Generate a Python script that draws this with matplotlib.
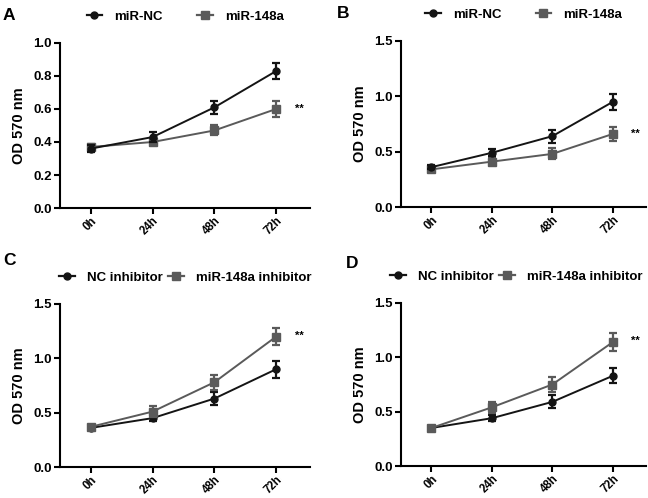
import matplotlib.pyplot as plt
from matplotlib.lines import Line2D

plt.rcParams['font.family'] = ['Liberation Sans', 'DejaVu Sans']
plt.rcParams['font.weight'] = 'bold'

times = ['0h', '24h', '48h', '72h']

# panel A
a_nc = [0.36, 0.43, 0.61, 0.83]
a_nc_err = [0.02, 0.03, 0.04, 0.05]
a_mir = [0.37, 0.40, 0.47, 0.60]
a_mir_err = [0.02, 0.02, 0.03, 0.05]

# panel B
b_nc = [0.36, 0.49, 0.64, 0.95]
b_nc_err = [0.02, 0.03, 0.06, 0.07]
b_mir = [0.34, 0.41, 0.48, 0.66]
b_mir_err = [0.02, 0.03, 0.05, 0.06]

# panel C
c_nc = [0.36, 0.45, 0.63, 0.90]
c_nc_err = [0.02, 0.03, 0.06, 0.08]
c_inh = [0.37, 0.51, 0.78, 1.20]
c_inh_err = [0.02, 0.05, 0.07, 0.08]

# panel D
d_nc = [0.35, 0.44, 0.59, 0.83]
d_nc_err = [0.02, 0.03, 0.06, 0.07]
d_inh = [0.35, 0.54, 0.75, 1.14]
d_inh_err = [0.02, 0.05, 0.07, 0.08]

BLACK = '#141414'
GRAY = '#5a5a5a'


def draw_panel(ax, black, black_err, gray, gray_err, labels,
               ymax, yticks, star_y, gray_on_top=False, colsp=2.6, legx=0.5):
    x = range(len(times))
    order = [(black, black_err, BLACK, 'o', labels[0]),
             (gray, gray_err, GRAY, 's', labels[1])]
    handles = []
    for i, (vals, errs, col, mk, lab) in enumerate(order):
        z = 3 if (i == 1) == gray_on_top else 2
        ms = 5.5 if mk == 's' else 5
        ax.errorbar(x, vals, yerr=errs, color=col, marker=mk,
                    markersize=ms, lw=1.4,
                    elinewidth=1.6, capsize=3, capthick=1.6, zorder=z)
        handles.append(Line2D([], [], color=col, marker=mk, markersize=ms,
                              lw=1.6, label=lab))
    ax.set_xlim(-0.5, 3.55)
    ax.set_ylim(0, ymax)
    ax.set_yticks(yticks)
    ax.set_yticklabels(['{:.1f}'.format(t) for t in yticks], fontsize=9.5,
                       fontweight='bold')
    ax.set_xticks(list(x))
    ax.set_xticklabels(times, rotation=45, ha='right', rotation_mode='anchor',
                       fontsize=8.3, fontweight='bold')
    ax.set_ylabel('OD 570 nm', fontsize=10.5, fontweight='bold', labelpad=5)
    for s in ['top', 'right']:
        ax.spines[s].set_visible(False)
    for s in ['left', 'bottom']:
        ax.spines[s].set_linewidth(1.5)
    ax.tick_params(width=1.5, length=4, direction='out', pad=2)
    ax.tick_params(axis='x', pad=1)
    ax.text(3.3, star_y, '**', fontsize=8, fontweight='bold',
            va='center', ha='left')
    leg = ax.legend(handles=handles, loc='center', ncol=2,
                    bbox_to_anchor=(legx, 1.16), frameon=False,
                    fontsize=9.5, handlelength=1.2,
                    columnspacing=colsp, handletextpad=0.9)
    for t in leg.get_texts():
        t.set_fontweight('bold')


fig = plt.figure(figsize=(6.48, 4.98), dpi=100)
axA = fig.add_axes([0.0926, 0.5823, 0.386, 0.3314])
axB = fig.add_axes([0.619, 0.5843, 0.378, 0.3334])
axC = fig.add_axes([0.0926, 0.0622, 0.386, 0.3274])
axD = fig.add_axes([0.619, 0.0642, 0.378, 0.3274])

draw_panel(axA, a_nc, a_nc_err, a_mir, a_mir_err,
           ['miR-NC', 'miR-148a'], 1.0, [0.0, 0.2, 0.4, 0.6, 0.8, 1.0], 0.60)
draw_panel(axB, b_nc, b_nc_err, b_mir, b_mir_err,
           ['miR-NC', 'miR-148a'], 1.5, [0.0, 0.5, 1.0, 1.5], 0.66)
draw_panel(axC, c_nc, c_nc_err, c_inh, c_inh_err,
           ['NC inhibitor', 'miR-148a inhibitor'], 1.5, [0.0, 0.5, 1.0, 1.5],
           1.21, gray_on_top=True, colsp=0.4)
draw_panel(axD, d_nc, d_nc_err, d_inh, d_inh_err,
           ['NC inhibitor', 'miR-148a inhibitor'], 1.5, [0.0, 0.5, 1.0, 1.5],
           1.15, gray_on_top=True, colsp=0.4, legx=0.47)

# panel letters
for lx, ly, letter in [(3, 15, 'A'), (337, 13, 'B'), (3, 260, 'C'),
                       (346, 263, 'D')]:
    fig.text(lx / 648, 1 - ly / 498, letter, fontsize=12.5,
             fontweight='bold', va='center', ha='left')

fig.savefig('out.png', dpi=100)
